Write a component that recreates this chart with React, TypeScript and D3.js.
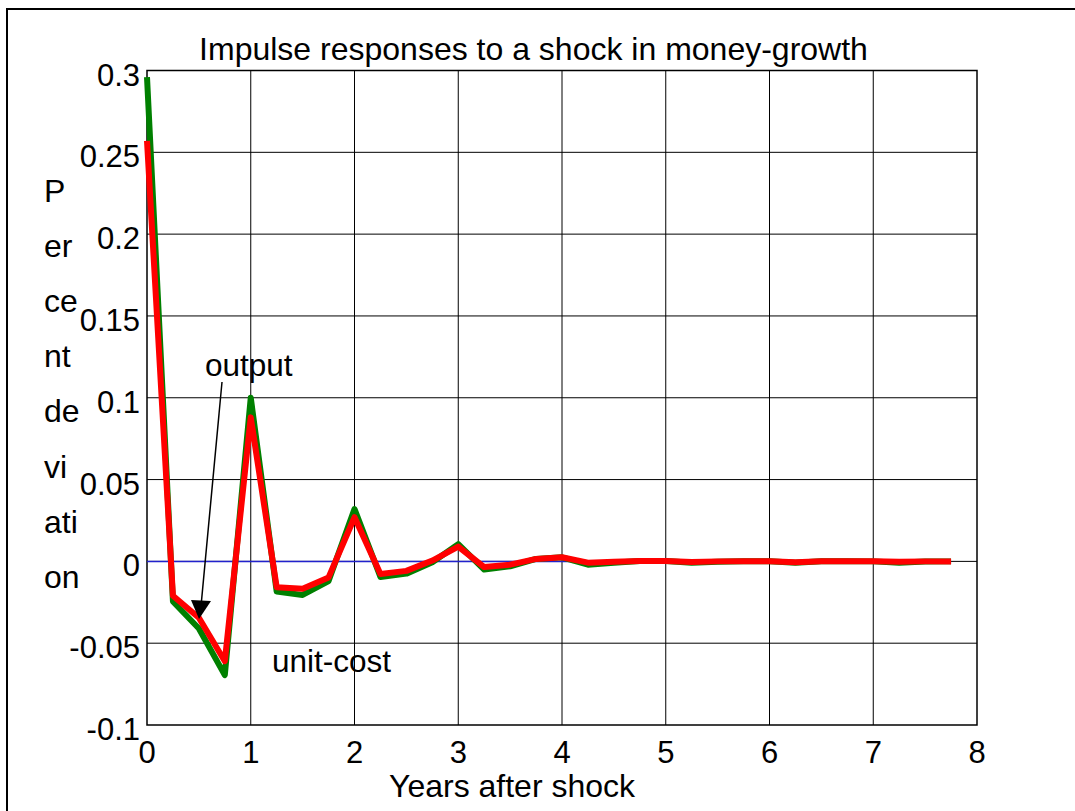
import React from "react";
import * as d3 from "d3";

const years = [0, 0.25, 0.5, 0.75, 1, 1.25, 1.5, 1.75, 2, 2.25, 2.5, 2.75, 3, 3.25, 3.5, 3.75, 4, 4.25, 4.5, 4.75, 5, 5.25, 5.5, 5.75, 6, 6.25, 6.5, 6.75, 7, 7.25, 7.5, 7.75];
const unitCost = [0.296, -0.0245, -0.041, -0.0695, 0.1, -0.0185, -0.0205, -0.012, 0.032, -0.0095, -0.0075, -0.0005, 0.0105, -0.005, -0.003, 0.0015, 0.0025, -0.002, -0.0008, 0.0002, 0.0003, -0.0008, -0.0003, 0.0001, 0.0001, -0.0008, 0.0001, 0.0001, 0, -0.0008, -0.0001, 0];
const output = [0.257, -0.021, -0.0345, -0.061, 0.088, -0.0158, -0.0168, -0.0098, 0.027, -0.0077, -0.0058, 0.0005, 0.009, -0.0035, -0.002, 0.0015, 0.0025, -0.0008, -0.0003, 0.0002, 0.0002, -0.0004, 0, 0.0001, 0.0001, -0.0005, 0.0001, 0.0001, 0.0001, -0.0002, 0, 0];
const zeroLine = years.map(() => 0);
const xTicks = [0, 1, 2, 3, 4, 5, 6, 7, 8];
const yTicks = [-0.1, -0.05, 0, 0.05, 0.1, 0.15, 0.2, 0.25, 0.3];
const yTickLabels = ["-0.1", "-0.05", "0", "0.05", "0.1", "0.15", "0.2", "0.25", "0.3"];
const yLabelParts = ["P", "er", "ce", "nt", "de", "vi", "ati", "on"];
const title = "Impulse responses to a shock in money-growth";
const xLabel = "Years after shock";

const FONT = "'Liberation Sans', Arial, Helvetica, sans-serif";

export default function App() {
  const left = 147, right = 977, top = 70.5, bottom = 725;
  const x = d3.scaleLinear().domain([0, 8]).range([left, right]);
  const y = d3.scaleLinear().domain([-0.1, 0.3]).range([bottom, top]);
  const line = d3.line<number>().x((_, i) => x(years[i])).y((d) => y(d));

  return (
    <svg width={1075} height={811} style={{ position: "fixed", left: 0, top: 0, background: "#fff" }} fontFamily={FONT}>
      <rect x={0} y={0} width={1075} height={811} fill="#fff" />
      <rect x={7} y={9} width={1100} height={900} fill="none" stroke="#000" strokeWidth={2} />
      {/* grid */}
      {xTicks.slice(1, -1).map((t) => (
        <line key={"gx" + t} x1={x(t)} x2={x(t)} y1={top} y2={bottom} stroke="#000" strokeWidth={1} />
      ))}
      {yTicks.slice(1, -1).map((t) => (
        <line key={"gy" + t} x1={left} x2={right} y1={y(t)} y2={y(t)} stroke="#000" strokeWidth={1} />
      ))}
      <rect x={left} y={top} width={right - left} height={bottom - top} fill="none" stroke="#000" strokeWidth={1.5} />
      {/* series */}
      <path d={line(zeroLine) || ""} fill="none" stroke="#2222cc" strokeWidth={1.5} />
      <path d={line(unitCost) || ""} fill="none" stroke="#008000" strokeWidth={6} strokeLinejoin="round" />
      <path d={line(output) || ""} fill="none" stroke="#ff0000" strokeWidth={6} strokeLinejoin="round" />
      {/* tick labels */}
      {yTicks.map((t, i) => (
        <text key={"ty" + t} x={140} y={y(t) + 15} textAnchor="end" fontSize={31} fill="#000">
          {yTickLabels[i]}
        </text>
      ))}
      {xTicks.map((t) => (
        <text key={"tx" + t} x={x(t)} y={763} textAnchor="middle" fontSize={31} fill="#000">
          {t}
        </text>
      ))}
      {/* title & labels */}
      <text x={533.5} y={60} textAnchor="middle" fontSize={32} fill="#000">{title}</text>
      <text x={512} y={797} textAnchor="middle" fontSize={32} fill="#000">{xLabel}</text>
      {yLabelParts.map((p, i) => (
        <text key={"yl" + i} x={44} y={202 + i * 55.1} fontSize={32} fill="#000">{p}</text>
      ))}
      {/* annotations */}
      <text x={205} y={376} fontSize={31.5} fill="#000">output</text>
      <line x1={222} y1={382} x2={201.5} y2={601} stroke="#000" strokeWidth={1.5} />
      <polygon points="191,600 211,601 199,619" fill="#000" />
      <text x={272} y={672} fontSize={31.5} fill="#000">unit-cost</text>
    </svg>
  );
}
